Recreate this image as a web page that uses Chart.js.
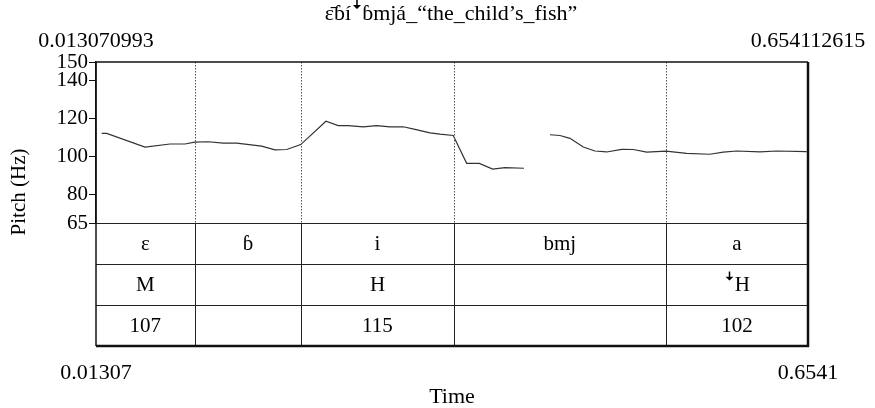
<!DOCTYPE html>
<html>
<head>
<meta charset="utf-8">
<script src="https://cdn.jsdelivr.net/npm/chart.js@4"></script>
<style>
  body { margin: 0; background: #fff; }
  #wrap { width: 875px; height: 408px; }
</style>
</head>
<body>
<div id="wrap"><canvas id="pitchChart" width="875" height="408"></canvas></div>
<script>
var titleText = "\u025B\u0304\u0253\u00EDꜜ\u0253mj\u00E1_\u201Cthe_child\u2019s_fish\u201D";
var xStartLabel = "0.013070993";
var xEndLabel = "0.654112615";
var xMin = 0.013070993;
var xMax = 0.654112615;

// pitch track (null = unvoiced gap)
var times = [0.0182, 0.0227, 0.0572, 0.0797, 0.0932, 0.1019, 0.1142, 0.1277, 0.1397, 0.1622,
  0.1742, 0.1848, 0.1974, 0.2201, 0.2312, 0.2402, 0.2537, 0.2658, 0.2777, 0.2897,
  0.3003, 0.3138, 0.3228, 0.3347, 0.3468, 0.3582, 0.3702, 0.3813, 0.3984, 0.41,
  0.4218, 0.4308, 0.4398, 0.4518, 0.4623, 0.4728, 0.4863, 0.4968, 0.5089, 0.5262,
  0.5449, 0.5658, 0.5778, 0.5899, 0.6109, 0.6259, 0.6529];
var pitch = [112.3, 112.3, 105.1, 106.7, 106.7, 107.7, 107.9, 107.2, 107.2, 105.6,
  103.6, 103.8, 106.4, 118.7, 116.4, 116.4, 115.8, 116.4, 115.8, 115.8,
  114.4, 112.6, 111.9, 111.2, 96.5, 96.5, 93.5, 94.2, 93.9, null,
  111.6, 111.2, 109.7, 105.1, 103.0, 102.5, 103.9, 103.8, 102.4, 102.9,
  101.8, 101.3, 102.4, 103.0, 102.5, 103.0, 102.7];

var yTicks = [65, 80, 100, 120, 140, 150];
var boundaries = [0.1019, 0.1979, 0.3351, 0.5262];
var phones = ["\u025B", "\u0253", "i", "bmj", "a"];
var tones = ["M", "", "H", "", "ꜜH"];
var toneValues = ["107", "", "115", "", "102"];
var xTickLabels = ["0.01307", "0.6541"];

var serif = "'Liberation Serif', 'Times New Roman', 'DejaVu Serif', serif";

var points = times.map(function(t, i) {
  return { x: t, y: pitch[i] };
});

var tierPlugin = {
  id: "tiers",
  afterDatasetsDraw: function(chart) {
    var ctx = chart.ctx;
    var area = chart.chartArea;
    var xs = chart.scales.x;
    var rowH = 41;
    var tiers = [phones, tones, toneValues];
    var bottom = area.bottom + rowH * tiers.length;
    var edges = [area.left].concat(boundaries.map(function(b) {
      return xs.getPixelForValue(b);
    })).concat([area.right]);

    ctx.save();
    // dotted boundary lines in the pitch area
    ctx.strokeStyle = "#555";
    ctx.lineWidth = 1;
    ctx.setLineDash([1.5, 1.5]);
    for (var i = 0; i < boundaries.length; i++) {
      var bx = Math.round(edges[i + 1]) + 0.5;
      ctx.beginPath();
      ctx.moveTo(bx, area.top);
      ctx.lineTo(bx, area.bottom);
      ctx.stroke();
    }
    ctx.setLineDash([]);

    // tier rows
    ctx.strokeStyle = "#222";
    for (var r = 0; r <= tiers.length; r++) {
      var ry = Math.round(area.bottom + rowH * r) + 0.5;
      ctx.beginPath();
      ctx.moveTo(area.left, ry);
      ctx.lineTo(area.right, ry);
      ctx.stroke();
    }
    for (var j = 0; j < boundaries.length; j++) {
      var lx = Math.round(edges[j + 1]) + 0.5;
      ctx.beginPath();
      ctx.moveTo(lx, area.bottom);
      ctx.lineTo(lx, bottom);
      ctx.stroke();
    }

    // cell labels
    ctx.fillStyle = "#000";
    ctx.font = "21px " + serif;
    ctx.textAlign = "center";
    ctx.textBaseline = "middle";
    for (var t = 0; t < tiers.length; t++) {
      for (var c = 0; c < tiers[t].length; c++) {
        if (!tiers[t][c]) continue;
        var cx = (edges[c] + edges[c + 1]) / 2;
        var cy = area.bottom + rowH * t + rowH / 2 + 1;
        ctx.fillText(tiers[t][c], cx, cy);
      }
    }

    // outer frame
    ctx.strokeStyle = "#111";
    ctx.lineWidth = 1.5;
    ctx.beginPath();
    ctx.moveTo(area.left, area.top);
    ctx.lineTo(area.right, area.top);
    ctx.stroke();
    ctx.beginPath();
    ctx.moveTo(area.left, area.top);
    ctx.lineTo(area.left, bottom);
    ctx.stroke();
    ctx.lineWidth = 2.5;
    ctx.beginPath();
    ctx.moveTo(area.right, area.top);
    ctx.lineTo(area.right, bottom);
    ctx.lineTo(area.left, bottom);
    ctx.stroke();

    // texts around the frame
    ctx.font = "22px " + serif;
    ctx.textBaseline = "alphabetic";
    ctx.textAlign = "center";
    ctx.fillText(titleText, 451, 20);

    ctx.fillText(xStartLabel, area.left, 47);
    ctx.fillText(xEndLabel, area.right, 47);

    ctx.fillText(xTickLabels[0], area.left, 379);
    ctx.fillText(xTickLabels[1], area.right, 379);
    ctx.fillText("Time", (area.left + area.right) / 2, 403);

    ctx.font = "21px " + serif;
    ctx.translate(19, 192);
    ctx.rotate(-Math.PI / 2);
    ctx.textBaseline = "middle";
    ctx.fillText("Pitch (Hz)", 0, 0);
    ctx.restore();
  }
};

var ctx = document.getElementById("pitchChart").getContext("2d");

var pitchChart = new Chart(ctx, {
  type: "line",
  data: {
    datasets: [{
      data: points,
      borderColor: "#333",
      borderWidth: 1.2,
      pointRadius: 0,
      tension: 0,
      spanGaps: false,
      fill: false
    }]
  },
  options: {
    responsive: false,
    animation: false,
    layout: {
      padding: { left: 0, top: 62, right: 67, bottom: 185 }
    },
    plugins: {
      legend: { display: false },
      tooltip: { enabled: false }
    },
    scales: {
      x: {
        type: "linear",
        min: xMin,
        max: xMax,
        display: false
      },
      y: {
        type: "linear",
        min: 65,
        max: 150,
        afterBuildTicks: function(scale) {
          scale.ticks = yTicks.map(function(v) { return { value: v }; });
        },
        afterFit: function(scale) {
          scale.width = 96;
        },
        ticks: {
          color: "#000",
          padding: 1,
          font: { family: serif, size: 21 },
          callback: function(v) { return v; }
        },
        grid: {
          drawOnChartArea: false,
          drawTicks: true,
          tickLength: 7,
          color: "#111"
        },
        border: { display: true, color: "#111", width: 1.5 }
      }
    }
  },
  plugins: [tierPlugin]
});
</script>
</body>
</html>
